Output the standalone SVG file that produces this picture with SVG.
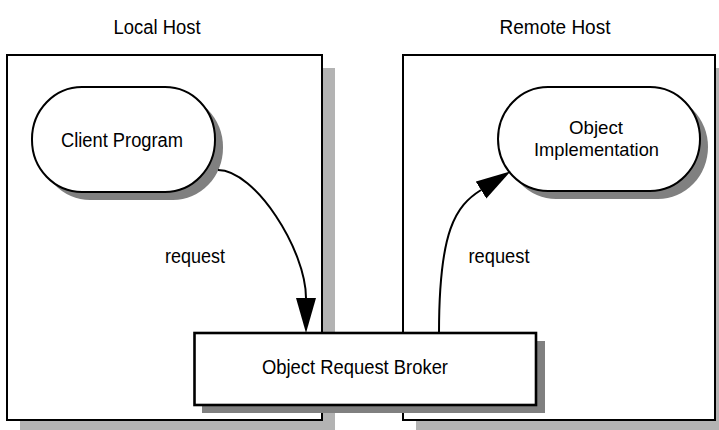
<svg xmlns="http://www.w3.org/2000/svg" width="719" height="430" viewBox="0 0 719 430">
<style>
text { font-family: "Liberation Sans", Arial, sans-serif; font-size: 20px; fill: #000; text-anchor: middle; }
.two { font-size: 19px; }
.host { fill: #fff; stroke: #000; stroke-width: 2; }
.hostShadow { fill: #b3b3b3; }
.shadow { fill: #808080; }
.pill { fill: #fff; stroke: #000; stroke-width: 2; }
.orb { fill: #fff; stroke: #000; stroke-width: 2.6; }
.conn { fill: none; stroke: #000; stroke-width: 2; }
</style>
<defs>
<marker id="arrow" markerUnits="userSpaceOnUse" markerWidth="36" markerHeight="22" refX="0" refY="10.5" orient="auto">
<path d="M0,0.5 L35,10.5 L0,20.5 z" fill="#000"/>
</marker>
</defs>
<rect width="719" height="430" fill="#fff"/>
<text x="157" y="34" textLength="87" lengthAdjust="spacingAndGlyphs">Local Host</text>
<text x="555" y="34" textLength="111" lengthAdjust="spacingAndGlyphs">Remote Host</text>
<g id="local-host">
<rect class="hostShadow" x="20" y="68" width="315" height="365"/>
<rect class="host" x="7" y="55" width="315" height="365"/>
</g>
<g id="remote-host">
<rect class="hostShadow" x="416" y="68" width="312" height="365"/>
<rect class="host" x="403" y="55" width="312" height="365"/>
</g>
<g id="client-program">
<rect class="shadow" x="40" y="95" width="183" height="105" rx="50" ry="52"/>
<rect class="pill" x="32" y="87" width="183" height="105" rx="50" ry="52"/>
<text x="122" y="147" textLength="122" lengthAdjust="spacingAndGlyphs">Client Program</text>
</g>
<g id="object-implementation">
<rect class="shadow" x="506" y="95" width="202" height="104" rx="50" ry="52"/>
<rect class="pill" x="498" y="87" width="202" height="104" rx="50" ry="52"/>
<text class="two" x="596" y="134" textLength="54" lengthAdjust="spacingAndGlyphs">Object</text>
<text class="two" x="596.5" y="155.5" textLength="125" lengthAdjust="spacingAndGlyphs">Implementation</text>
</g>
<g id="connectors">
<path class="conn" d="M218,170 C255,170 306,250 306,298" marker-end="url(#arrow)"/>
<path class="conn" d="M439,333 C439,230 455.6,206 481,190" marker-end="url(#arrow)"/>
<text x="195" y="263" textLength="60" lengthAdjust="spacingAndGlyphs">request</text>
<text x="499" y="263" textLength="61" lengthAdjust="spacingAndGlyphs">request</text>
</g>
<g id="orb">
<rect class="shadow" x="202" y="341" width="343" height="72"/>
<rect class="orb" x="194.5" y="333" width="341.5" height="72"/>
<text x="355" y="374" textLength="186" lengthAdjust="spacingAndGlyphs">Object Request Broker</text>
</g>
</svg>
